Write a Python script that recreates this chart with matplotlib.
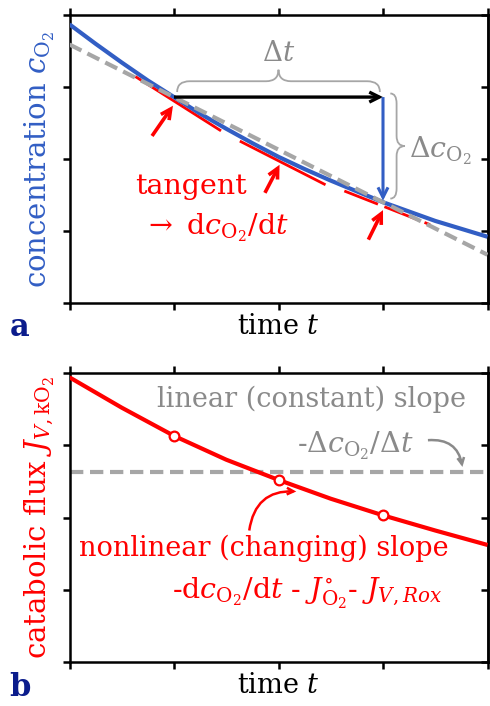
import matplotlib
matplotlib.use("Agg")
import matplotlib.pyplot as plt
from matplotlib.path import Path
from matplotlib.patches import PathPatch, FancyArrowPatch
import numpy as np

plt.rcParams["font.family"] = ["DejaVu Serif"]
plt.rcParams["mathtext.fontset"] = "dejavuserif"

# ---- data -------------------------------------------------------------
time = [0, 0.25, 0.5, 0.75, 1, 1.25, 1.5, 1.75, 2, 2.25, 2.5, 2.75, 3, 3.25, 3.5, 3.75, 4]
conc = [3.87, 3.60, 3.34, 3.09, 2.86, 2.63, 2.42, 2.22, 2.03, 1.86, 1.70, 1.55, 1.40,
        1.27, 1.14, 1.03, 0.92]
tangent_t = [1, 2, 3]
tangent_slope = [-0.92, -0.74, -0.57]

flux_t = [0, 0.5, 1, 1.5, 2, 2.5, 3, 3.5, 4]
flux = [3.94, 3.52, 3.13, 2.80, 2.52, 2.26, 2.03, 1.82, 1.62]
marker_t = [1, 2, 3]
mean_flux = 2.63

x_ticks = [0, 1, 2, 3, 4]
y_ticks = [0, 1, 2, 3, 4]

# ---- style ------------------------------------------------------------
BLUE = "#325ec4"
RED = "#ff0000"
GRAY = "#a6a6a6"
GRAY_TXT = "#8a8a8a"
NAVY = "#0b1c8c"
FS = 19.5

W, H = 490, 706
fig = plt.figure(figsize=(W / 100, H / 100), dpi=100)


def px_axes(left, top, right, bottom):
    return fig.add_axes([left / W, 1 - bottom / H, (right - left) / W, (bottom - top) / H])


def style_axes(ax):
    ax.set_xlim(0, 4)
    ax.set_ylim(0, 4)
    ax.set_xticks(x_ticks)
    ax.set_yticks(y_ticks)
    ax.tick_params(which="both", direction="out", length=5, width=1.8,
                   top=True, bottom=True, left=True, right=False,
                   labelbottom=False, labelleft=False)
    for s in ax.spines.values():
        s.set_linewidth(1.8)
    sec = ax.secondary_yaxis("right")
    sec.set_yticks(y_ticks)
    sec.tick_params(direction="in", length=5, width=1.8, labelright=False)
    sec.spines["right"].set_linewidth(1.8)
    ax.set_xlabel("time $t$", fontsize=FS, labelpad=2)


def hbrace(ax, x0, x1, yb, h1, h2, r):
    xm = (x0 + x1) / 2
    verts = [(x0, yb), (x0, yb + h1), (x0 + r, yb + h1),
             (xm - r, yb + h1), (xm, yb + h1), (xm, yb + h2),
             (xm, yb + h1), (xm + r, yb + h1),
             (x1 - r, yb + h1), (x1, yb + h1), (x1, yb)]
    codes = [Path.MOVETO, Path.CURVE3, Path.CURVE3,
             Path.LINETO, Path.CURVE3, Path.CURVE3,
             Path.CURVE3, Path.CURVE3,
             Path.LINETO, Path.CURVE3, Path.CURVE3]
    ax.add_patch(PathPatch(Path(verts, codes), fc="none", ec=GRAY, lw=1.3))


def vbrace(ax, y0, y1, xb, w1, w2, r):
    ym = (y0 + y1) / 2
    verts = [(xb, y0), (xb + w1, y0), (xb + w1, y0 - r),
             (xb + w1, ym + r), (xb + w1, ym), (xb + w2, ym),
             (xb + w1, ym), (xb + w1, ym - r),
             (xb + w1, y1 + r), (xb + w1, y1), (xb, y1)]
    codes = [Path.MOVETO, Path.CURVE3, Path.CURVE3,
             Path.LINETO, Path.CURVE3, Path.CURVE3,
             Path.CURVE3, Path.CURVE3,
             Path.LINETO, Path.CURVE3, Path.CURVE3]
    ax.add_patch(PathPatch(Path(verts, codes), fc="none", ec=GRAY, lw=1.3))


def arrow(ax, p0, p1, color, lw=2.2, style="->", scale=14, conn="arc3", z=6):
    ax.add_patch(FancyArrowPatch(p0, p1, arrowstyle=style, mutation_scale=scale,
                                 color=color, lw=lw, connectionstyle=conn,
                                 shrinkA=0, shrinkB=0, zorder=z,
                                 capstyle="butt", joinstyle="miter"))


# ---- panel a: concentration ------------------------------------------
ax1 = px_axes(69.5, 15, 487.5, 303)
style_axes(ax1)
ax1.set_ylabel("concentration $c_{\\mathrm{O}_2}$", color=BLUE, fontsize=21, labelpad=4)

c_at = dict(zip(time, conc))
c1, c3 = c_at[1], c_at[3]
sec_slope = (c3 - c1) / 2
ax1.plot([0, 4], [c1 - sec_slope, c1 + 3 * sec_slope], color=GRAY, lw=3,
         dashes=(3.2, 1.6), zorder=4.5, solid_capstyle="butt")

for tt, k in zip(tangent_t, tangent_slope):
    xs = np.array([tt - 0.37, tt + 0.45])
    ys = c_at[tt] + k * (xs - tt) - 0.055
    ax1.plot(xs, ys, color=RED, lw=2.0, zorder=3.8,
             dashes=(13, 2.5) if tt == 3 else (None, None), solid_capstyle="butt")

ax1.plot(time, conc, color=BLUE, lw=3.0, zorder=4, solid_capstyle="butt")

arrow(ax1, (1.0, c1), (3.0, c1), "black", lw=2.4, scale=18)
arrow(ax1, (3.0, c1), (3.0, c3 + 0.02), BLUE, lw=2.2, scale=18)

hbrace(ax1, 1.03, 2.97, 2.93, 0.15, 0.31, 0.12)
vbrace(ax1, c1 + 0.05, c3 + 0.05, 3.07, 0.06, 0.14, 0.14)

ax1.text(2.0, 3.47, "$\\Delta t$", color=GRAY_TXT, fontsize=20, ha="center", va="center")
ax1.text(3.25, 2.12, "$\\Delta c_{\\mathrm{O}_2}$", color=GRAY_TXT, fontsize=20.5,
         ha="left", va="center")

ax1.text(1.16, 1.62, "tangent", color=RED, fontsize=20.5, ha="center", va="center")
ax1.text(1.40, 1.04, "$\\rightarrow$ $\\mathrm{d}c_{\\mathrm{O}_2}/\\mathrm{d}t$", color=RED,
         fontsize=20.5, ha="center", va="center")

arrow(ax1, (0.79, 2.32), (0.99, 2.74), RED, lw=2.6, scale=18)
arrow(ax1, (1.87, 1.53), (2.01, 1.92), RED, lw=2.6, scale=18)
arrow(ax1, (2.86, 0.88), (3.0, 1.29), RED, lw=2.6, scale=18)

fig.text(20 / W, 1 - 328 / H, "a", color=NAVY, fontsize=22, fontweight="bold",
         ha="center", va="center")

# ---- panel b: catabolic flux ------------------------------------------
ax2 = px_axes(69.5, 373, 487.5, 662)
style_axes(ax2)
ax2.set_ylabel("catabolic flux $J_{V,\\mathrm{kO}_2}$", color=RED, fontsize=21, labelpad=4)

ax2.axhline(mean_flux, color=GRAY, lw=3, dashes=(3.2, 1.6), zorder=2)
ax2.plot(flux_t, flux, color=RED, lw=3.0, zorder=3, solid_capstyle="butt")
f_at = dict(zip(flux_t, flux))
ax2.plot(marker_t, [f_at[m] for m in marker_t], "o", ms=7, mfc="white", mec=RED,
         mew=1.6, zorder=4)

ax2.text(2.32, 3.64, "linear (constant) slope", color=GRAY_TXT, fontsize=FS,
         ha="center", va="center")
ax2.text(2.73, 3.0, "-$\\Delta c_{\\mathrm{O}_2}/\\Delta t$", color=GRAY_TXT, fontsize=20.5,
         ha="center", va="center")
arrow(ax2, (3.43, 3.07), (3.76, 2.70), GRAY_TXT, lw=1.8, scale=12, conn="arc3,rad=-0.45")

ax2.text(1.86, 1.57, "nonlinear (changing) slope", color=RED, fontsize=FS,
         ha="center", va="center")
ax2.text(2.27, 0.95,
         "-$\\mathrm{d}c_{\\mathrm{O}_2}/\\mathrm{d}t$ - $J^{\\circ}_{\\mathrm{O}_2}$- $J_{V,Rox}$",
         color=RED, fontsize=20.5, ha="center", va="center")
arrow(ax2, (1.72, 1.82), (2.17, 2.36), RED, lw=1.8, scale=12, conn="arc3,rad=-0.45")

fig.text(20 / W, 1 - 688 / H, "b", color=NAVY, fontsize=22, fontweight="bold",
         ha="center", va="center")

fig.savefig("out.png", dpi=100)
